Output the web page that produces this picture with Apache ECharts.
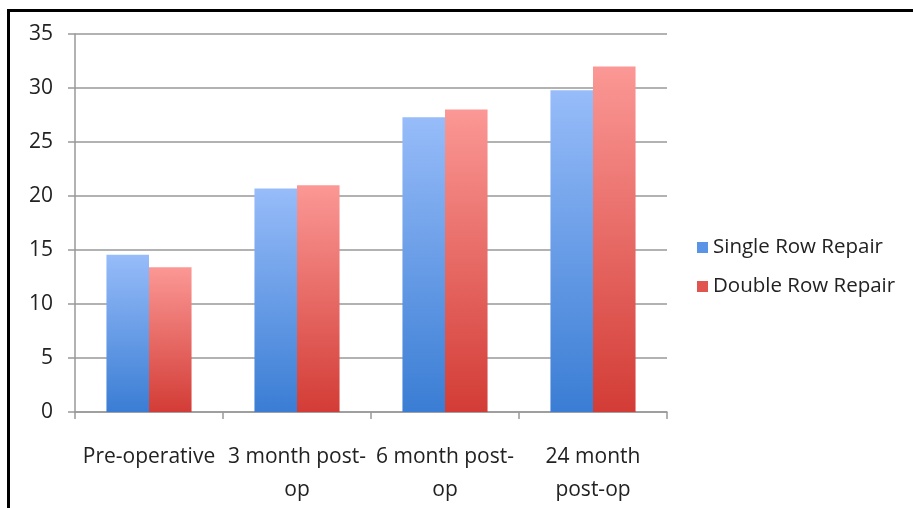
<!DOCTYPE html>
<html>
<head>
<meta charset="utf-8">
<script src="https://cdn.jsdelivr.net/npm/echarts@6/dist/echarts.min.js"></script>
<style>html,body{margin:0;padding:0;background:#fff;}#c{width:913px;height:508px;}</style>
</head>
<body>
<div id="c"></div>
<script>
const categories = ["Pre-operative", "3 month post-\nop", "6 month post-\nop", "24 month\npost-op"];
const singleRow = [14.55, 20.7, 27.3, 29.8];
const doubleRow = [13.4, 21.0, 28.0, 32.0];
const seriesNames = ["Single Row Repair", "Double Row Repair"];
const yTicks = { min: 0, max: 35, interval: 5 };

const font = "Open Sans";
const chart = echarts.init(document.getElementById('c'));
function grad(top, bottom) {
  return new echarts.graphic.LinearGradient(0, 0, 0, 1, [
    { offset: 0, color: top }, { offset: 1, color: bottom }
  ]);
}
chart.setOption({
  animation: false,
  textStyle: { fontFamily: font },
  graphic: [{
    type: 'rect', shape: { x: 8.5, y: 10.5, width: 1000, height: 600 },
    style: { fill: 'none', stroke: '#000', lineWidth: 3 }, silent: true
  }],
  grid: { left: 75, right: 246, top: 34, bottom: 96, containLabel: false },
  legend: {
    orient: 'vertical', left: 692, top: 230, itemWidth: 11, itemHeight: 11, itemGap: 14,
    icon: 'rect',
    textStyle: { fontSize: 20.5, color: '#222', fontFamily: font, lineHeight: 25 },
    data: [
      { name: seriesNames[0], itemStyle: { color: '#5a94e6' } },
      { name: seriesNames[1], itemStyle: { color: '#e05550' } }
    ]
  },
  xAxis: {
    type: 'category', data: categories,
    axisLine: { lineStyle: { color: '#999', width: 1.5 } },
    axisTick: { show: true, length: 7, lineStyle: { color: '#999', width: 1.5 } },
    axisLabel: { fontSize: 21, color: '#222', margin: 29, lineHeight: 33, interval: 0, fontFamily: font }
  },
  yAxis: {
    type: 'value', min: yTicks.min, max: yTicks.max, interval: yTicks.interval,
    axisLine: { show: true, lineStyle: { color: '#999', width: 1.5 } },
    axisTick: { show: true, length: 7, lineStyle: { color: '#999', width: 1.5 } },
    splitLine: { lineStyle: { color: '#999', width: 1.5 } },
    axisLabel: { fontSize: 21, color: '#222', margin: 22, fontFamily: font }
  },
  series: [
    { name: seriesNames[0], type: 'bar', data: singleRow, barGap: '0%', barCategoryGap: '42.5%',
      itemStyle: { color: grad('#97bcf9', '#3a7dd4') } },
    { name: seriesNames[1], type: 'bar', data: doubleRow,
      itemStyle: { color: grad('#fb9895', '#d33c36') } }
  ]
});
</script>
</body>
</html>
